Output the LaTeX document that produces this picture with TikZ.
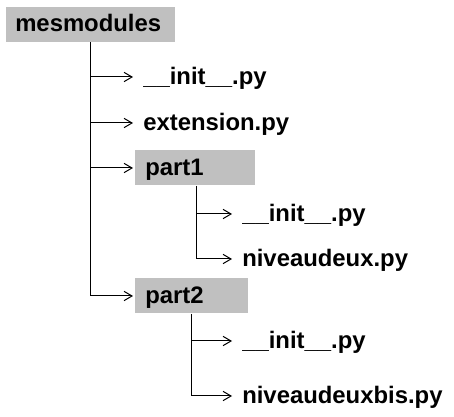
\documentclass[tikz,border=0pt]{standalone}
\usepackage{fontspec}
\setmainfont{Liberation Sans}
\usetikzlibrary{arrows.meta,calc}
\definecolor{boxgray}{RGB}{192,192,192}

\begin{document}
\begin{tikzpicture}[x=0.75pt,y=-0.75pt,
          dossier/.style={fill=boxgray,anchor=west,minimum height=26.25pt,
                      inner xsep=7.5pt,inner ysep=0pt,text height=11.25pt,
                      text depth=0pt,align=left,
                      font=\fontsize{17.9}{21}\selectfont\bfseries},
          fichier/.style={anchor=west,inner xsep=7.5pt,inner ysep=0pt,
                      text height=11.25pt,text depth=0pt,
                      font=\fontsize{17.9}{21}\selectfont\bfseries},
          lien/.style={-{Straight Barb[length=6pt,width=7pt]},line width=0.75pt}
        ]
        \useasboundingbox (0,0) rectangle (454,417);
        \node[dossier,text width=113.25pt,inner xsep=6.75pt] (racine) at (6,24.5) {mesmodules};
        \node[fichier] (init)   at (133,77)  {\_\_init\_\_.py};
        \node[fichier] (ext)    at (133,123) {extension.py};
        \node[dossier,text width=75pt]    (part1) at (135,168) {part1};
        \node[fichier] (initA)  at (232,214) {\_\_init\_\_.py};
        \node[fichier] (niv)    at (232,259) {niveaudeux.py};
        \node[dossier,text width=69.75pt] (part2) at (135,296) {part2};
        \node[fichier] (initB)  at (232,341) {\_\_init\_\_.py};
        \node[fichier] (nivbis) at (232,396) {niveaudeuxbis.py};
        \draw[lien] ($(racine.south west)+(84,0)$) |- (init.west);
        \draw[lien] ($(racine.south west)+(84,0)$) |- (ext.west);
        \draw[lien,shorten >=1.5pt] ($(racine.south west)+(84,0)$) |- (part1.west);
        \draw[lien,shorten >=1.5pt] ($(racine.south west)+(84,0)$) |- (part2.west);
        \draw[lien] ($(part1.south west)+(61,0)$) |- (initA.west);
        \draw[lien] ($(part1.south west)+(61,0)$) |- (niv.west);
        \draw[lien] ($(part2.south west)+(56,0)$) |- (initB.west);
        \draw[lien] ($(part2.south west)+(56,0)$) |- (nivbis.west);
      \end{tikzpicture}
\end{document}
